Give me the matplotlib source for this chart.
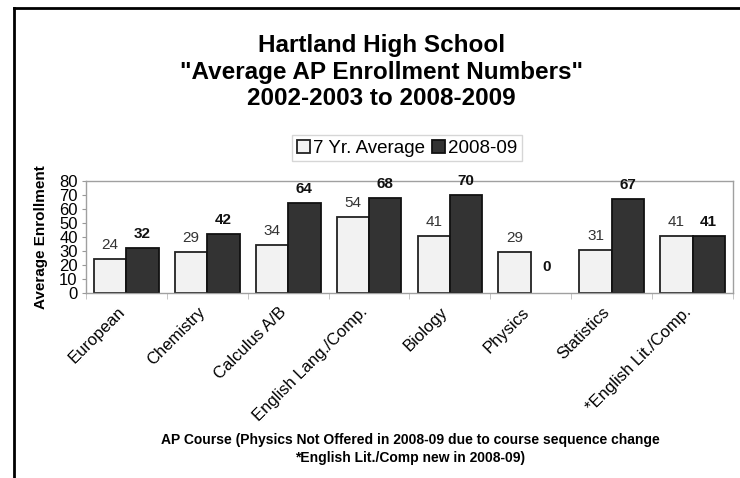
import numpy as np
import matplotlib.pyplot as plt
from matplotlib.lines import Line2D
from matplotlib.transforms import ScaledTranslation

plt.rcParams['font.family'] = ['Liberation Sans', 'DejaVu Sans']

courses = ['European', 'Chemistry', 'Calculus A/B', 'English Lang./Comp.',
           'Biology', 'Physics', 'Statistics', '*English Lit./Comp.']
avg_7yr = [24, 29, 34, 54, 41, 29, 31, 41]
yr_2008 = [32, 42, 64, 68, 70, 0, 67, 41]

fig = plt.figure(figsize=(7.4, 4.78), dpi=100)
ax = fig.add_axes([0.1162, 0.387, 0.8743, 0.2343])

x = np.arange(len(courses))
w = 0.4
b1 = ax.bar(x - w / 2, avg_7yr, w, color='#f2f2f2', edgecolor='#222222',
            linewidth=1.3, label='7 Yr. Average')
b2 = ax.bar(x + w / 2, yr_2008, w, color='#333333', edgecolor='#111111',
            linewidth=1.3, label='2008-09')
# zero-height bar shows no outline
for rect, v in zip(b2, yr_2008):
    if v == 0:
        rect.set_linewidth(0)

for rect, v in zip(b1, avg_7yr):
    ax.annotate(str(v), (rect.get_x() + rect.get_width() / 2, v),
                xytext=(0, 5), textcoords='offset points', ha='center',
                va='bottom', fontsize=11, color='#333333')
for rect, v in zip(b2, yr_2008):
    ax.annotate(str(v), (rect.get_x() + rect.get_width() / 2, v),
                xytext=(0, 5 if v > 0 else 14), textcoords='offset points',
                ha='center', va='bottom', fontsize=11, fontweight='bold',
                color='#111111')

ax.set_xlim(-0.5, len(courses) - 0.5)
ax.set_ylim(0, 80)
ax.set_yticks(range(0, 81, 10))
ax.tick_params(axis='y', labelsize=12, length=3, color='#999999', pad=3)
ax.set_xticks(x)
ax.set_xticklabels(courses, rotation=45, ha='right', va='center',
                   rotation_mode='anchor', fontsize=12)
ax.tick_params(axis='x', which='major', length=0, pad=12)
shift = ScaledTranslation(-3 / 72, 0, fig.dpi_scale_trans)
for lbl in ax.get_xticklabels():
    lbl.set_transform(lbl.get_transform() + shift)
ax.set_xticks(np.arange(-0.5, len(courses), 1), minor=True)
ax.tick_params(axis='x', which='minor', length=4, color='#bbbbbb')
for s in ax.spines.values():
    s.set_color('#a0a0a0')
    s.set_linewidth(1)

ax.set_ylabel('Average Enrollment', fontsize=11, fontweight='bold', labelpad=8)

fig.text(0.515, 0.849, 'Hartland High School\n"Average AP Enrollment Numbers"\n2002-2003 to 2008-2009',
         ha='center', va='center', fontsize=17.5, fontweight='bold',
         linespacing=1.2)

leg = fig.legend(handles=[b1, b2], loc='center', bbox_to_anchor=(0.550, 0.69),
                 ncol=2, fontsize=13.5, frameon=True, fancybox=False,
                 handlelength=0.7, handleheight=0.7, handletextpad=0.15,
                 columnspacing=0.4, borderpad=0.25, borderaxespad=0)
leg.get_frame().set_edgecolor('#cccccc')
leg.get_frame().set_linewidth(1)

fig.text(0.554, 0.06, 'AP Course (Physics Not Offered in 2008-09 due to course sequence change\n*English Lit./Comp new in 2008-09)',
         ha='center', va='center', fontsize=10, fontweight='bold',
         linespacing=1.35)

# outer frame (left and top edges visible)
fig.add_artist(Line2D([0.019, 0.019], [0, 0.983], color='black', lw=2,
                      transform=fig.transFigure))
fig.add_artist(Line2D([0.019, 1], [0.983, 0.983], color='black', lw=2,
                      transform=fig.transFigure))

fig.savefig('out.png', dpi=100)
